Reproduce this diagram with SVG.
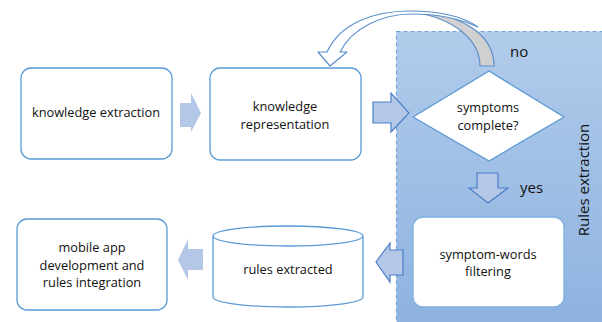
<svg xmlns="http://www.w3.org/2000/svg" width="602" height="322" viewBox="0 0 602 322">
<defs>
<linearGradient id="rg" x1="0" y1="0" x2="0" y2="1">
<stop offset="0" stop-color="#b1cbea"/>
<stop offset="1" stop-color="#8db2e0"/>
</linearGradient>
<style>
.box{fill:#fff;stroke:#5b9bd5;stroke-width:1.3}
.t{font-family:"Open Sans","Liberation Sans",sans-serif;font-size:12.8px;fill:#111;text-anchor:middle}
.big{font-family:"Open Sans","Liberation Sans",sans-serif;font-size:15px;fill:#111}
.la{fill:#b4c7e7;stroke:none}
.oa{fill:#b4c7e7;stroke:#4a7fc9;stroke-width:1.2;stroke-linejoin:miter}
.ca{stroke:#5b8fcb;stroke-width:1.2;stroke-linejoin:round}
</style>
</defs>
<g id="region-rules-extraction">
<rect x="396.5" y="31.5" width="215" height="300" fill="url(#rg)" stroke="#6fa3da" stroke-width="1.2" stroke-dasharray="4 3"/>
<text class="big" transform="translate(589,180) rotate(-90)" text-anchor="middle">Rules extraction</text>
</g>
<g id="connectors">
<path class="la" d="M180,103 L191,103 L191,93 L201,113 L191,132 L191,127 L180,127 Z"/>
<path class="oa" d="M373,102 L391,102 L391,93 L409,113 L391,132 L391,123 L373,123 Z"/>
<path class="oa" d="M477,173 L498,173 L498,188 L508,188 L488,203 L469,188 L477,188 Z"/>
<path class="oa" d="M403,250 L390,250 L390,243 L376,262 L390,282 L390,275 L403,275 Z"/>
<path class="la" d="M203,249 L188,249 L188,239 L178,260 L188,280 L188,270 L203,270 Z"/>
<path class="ca" fill="#d0d0d0" d="M412,12 C456,12 494,32 494,66 L480,66 C480,40 454,18 412,12 Z"/>
<path class="ca" fill="#fff" d="M327,52 C340,24 372,11 410,11 C440,11 462,16 478,27 C458,18 436,14 412,14 C382,14 352,28 340,52 L347,52 L330,66 L318,52 Z"/>
<text class="big" x="510" y="57">no</text>
<text class="big" x="520" y="193">yes</text>
</g>
<g id="node-knowledge-extraction">
<rect class="box" x="21" y="68" width="151" height="91" rx="10"/>
<text class="t" x="96" y="117">knowledge extraction</text>
</g>
<g id="node-knowledge-representation">
<rect class="box" x="210" y="68" width="151" height="92" rx="10"/>
<text class="t" x="285" y="111">knowledge</text>
<text class="t" x="285" y="129">representation</text>
</g>
<g id="node-symptoms-complete">
<polygon class="box" points="413,117 489,71 564,117 489,161"/>
<text class="t" x="488" y="112">symptoms</text>
<text class="t" x="488" y="130">complete?</text>
</g>
<g id="node-symptom-words-filtering">
<rect class="box" x="413" y="217" width="151" height="90" rx="10" style="stroke:#7fb0e0"/>
<text class="t" x="488" y="259">symptom-words</text>
<text class="t" x="488" y="276">filtering</text>
</g>
<g id="node-rules-extracted">
<path class="box" d="M213,236 L213,297 A75,10 0 0 0 363,297 L363,236 A75,10 0 0 0 213,236 Z"/>
<path class="box" style="fill:none" d="M213,236 A75,10 0 0 0 363,236"/>
<text class="t" x="288" y="274">rules extracted</text>
</g>
<g id="node-mobile-app">
<rect class="box" x="17" y="219" width="150" height="91" rx="10"/>
<text class="t" x="92" y="252">mobile app</text>
<text class="t" x="92" y="270">development and</text>
<text class="t" x="92" y="287">rules integration</text>
</g>
</svg>
